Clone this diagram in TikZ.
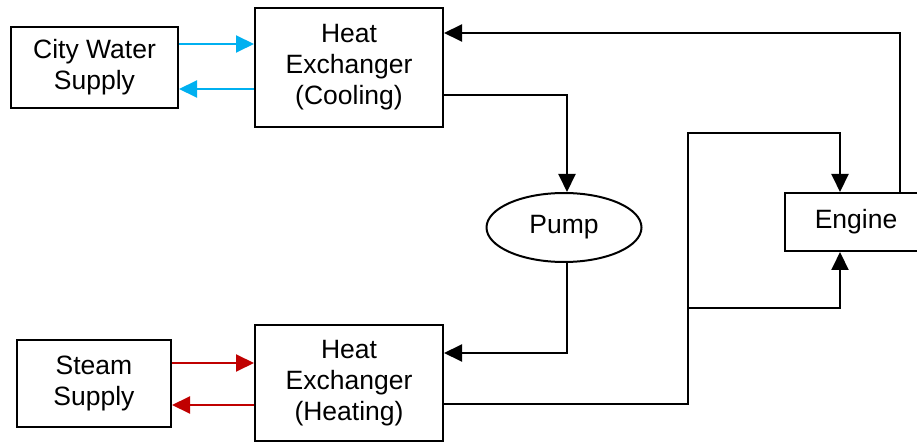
\documentclass[tikz,border=0pt]{standalone}
\usepackage{fontspec}
\setmainfont{Liberation Sans}
\usetikzlibrary{arrows.meta,shapes.geometric}
\definecolor{wblue}{RGB}{0,176,240}
\definecolor{sred}{RGB}{192,0,0}
\begin{document}
\begin{tikzpicture}[x=1pt,y=-1pt,
  box/.style={draw,line width=2pt,rectangle,inner sep=0pt,align=center,font=\fontsize{26.5}{31}\selectfont},
  conn/.style={line width=2pt,-{Triangle[length=18pt,width=17pt]}},
  plain/.style={line width=2pt}]
\useasboundingbox (0,0) rectangle (917,443);
\node[box,minimum width=167pt,minimum height=81pt] (city) at (94.5,67.5) {City Water\\Supply};
\node[box,minimum width=188pt,minimum height=119pt] (hxc) at (349,67.5) {Heat\\Exchanger\\(Cooling)};
\node[box,minimum width=154pt,minimum height=87pt] (steam) at (94,383.5) {Steam\\Supply};
\node[box,minimum width=188pt,minimum height=116pt] (hxh) at (349,383) {Heat\\Exchanger\\(Heating)};
\node[box,minimum width=142pt,minimum height=58pt] (engine) at (856,222) {Engine};
\node[box,ellipse,minimum width=155pt,minimum height=69pt] (pump) at (564,227.5) {Pump};
\coordinate (j) at (688,308);
% water
\draw[conn,wblue] (city.east |- 0,44) -- (hxc.west |- 0,44);
\draw[conn,wblue] (hxc.west |- 0,89) -- (city.east |- 0,89);
% steam
\draw[conn,sred] (steam.east |- 0,363) -- (hxh.west |- 0,363);
\draw[conn,sred] (hxh.west |- 0,405) -- (steam.east |- 0,405);
% loop
\draw[conn] (hxc.east |- 0,95) -| (pump.north -| 567,0);
\draw[conn] (pump.south -| 567,0) |- (hxh.east |- 0,353);
\draw[conn] (hxh.east |- 0,404) -| (688,133) -| (engine.north -| 840,0);
\draw[conn] (j) -| (engine.south -| 840,0);
\draw[conn] (engine.north -| 900,0) |- (hxc.east |- 0,33);
\end{tikzpicture}
\end{document}
